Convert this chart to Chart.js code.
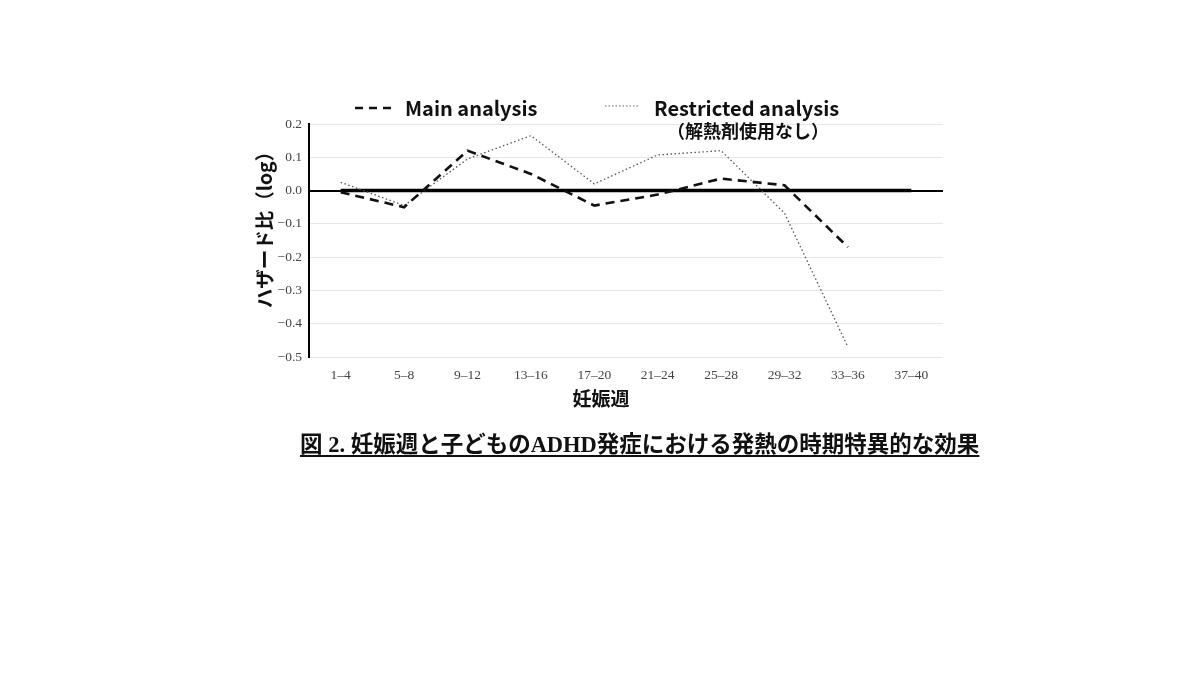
<!DOCTYPE html>
<html><head><meta charset="utf-8">
<script src="https://cdn.jsdelivr.net/npm/chart.js@4"></script>
<style>
html,body{margin:0;padding:0;background:#fff;}
#wrap{position:relative;width:1200px;height:675px;}
#caption{position:absolute;left:300px;top:426px;white-space:nowrap;font-family:"Liberation Serif","Noto Sans CJK JP",serif;font-weight:bold;font-size:22.5px;color:#111;}
#caption span{text-decoration:underline;text-underline-offset:3px;text-decoration-thickness:1.5px;}
</style></head>
<body><div id="wrap"><canvas id="c" width="1200" height="675"></canvas>
<div id="caption"><span>図 2. 妊娠週と子どものADHD発症における発熱の時期特異的な効果</span></div></div>
<script>
const categories = ["1–4","5–8","9–12","13–16","17–20","21–24","25–28","29–32","33–36","37–40"];
const mainAnalysis = [-0.005,-0.05,0.12,0.05,-0.045,-0.012,0.036,0.016,-0.17,null];
const restrictedAnalysis = [0.025,-0.045,0.095,0.165,0.02,0.107,0.12,-0.068,-0.47,null];
const referenceLine = [0,0,0,0,0,0,0,0,0,0];
const yTicks = [0.2,0.1,0.0,-0.1,-0.2,-0.3,-0.4,-0.5];
const xTitle = '妊娠週';
const yTitle = 'ハザード比（log）';

const legendPlugin = {
  id:'customLegend',
  afterDraw(chart){
    const ctx = chart.ctx;
    ctx.save();
    ctx.strokeStyle='#111'; ctx.lineWidth=2.5; ctx.setLineDash([8,6]);
    ctx.beginPath(); ctx.moveTo(355,108); ctx.lineTo(392,108); ctx.stroke();
    ctx.strokeStyle='#666'; ctx.lineWidth=1.2; ctx.setLineDash([1.5,2]);
    ctx.beginPath(); ctx.moveTo(605,106); ctx.lineTo(640,106); ctx.stroke();
    ctx.setLineDash([]);
    ctx.fillStyle='#111';
    ctx.font='bold 20px "Noto Sans CJK JP", "Noto Sans", sans-serif';
    ctx.textBaseline='middle'; ctx.textAlign='left';
    ctx.fillText('Main analysis',405,108);
    ctx.fillText('Restricted analysis',654,108);
    ctx.font='bold 18px "Noto Sans CJK JP", sans-serif';
    ctx.textAlign='center';
    ctx.fillText('（解熱剤使用なし）',748,131);
    // axis titles
    ctx.font='bold 19px "Noto Sans CJK JP", sans-serif';
    ctx.fillText(xTitle,601,399);
    ctx.translate(265,225);
    ctx.rotate(-Math.PI/2);
    ctx.font='bold 19.5px "Noto Sans CJK JP", sans-serif';
    ctx.fillText(yTitle,0,0);
    ctx.restore();
  }
};

new Chart(document.getElementById('c'),{
  type:'line',
  data:{labels:categories,datasets:[
    {label:'ref',data:referenceLine,borderColor:'#000',borderWidth:3.5,pointRadius:0,order:3},
    {label:'Main analysis',data:mainAnalysis,borderColor:'#111',borderWidth:2.6,borderDash:[9,6],pointRadius:0,tension:0,order:1},
    {label:'Restricted analysis（解熱剤使用なし）',data:restrictedAnalysis,borderColor:'#555',borderWidth:1.3,borderDash:[1.5,2.5],pointRadius:0,tension:0,order:2}
  ]},
  options:{
    responsive:false,animation:false,
    layout:{padding:{left:251,right:257,top:124,bottom:264}},
    plugins:{legend:{display:false},tooltip:{enabled:false}},
    scales:{
      x:{
        offset:true,
        grid:{display:false},
        border:{display:false},
        ticks:{color:'#444',font:{family:'"Liberation Serif", serif',size:13.5},padding:2,maxRotation:0},
        afterFit(s){s.height=54;s.paddingLeft=0;s.paddingRight=0;}
      },
      y:{
        min:-0.5,max:0.2,
        afterBuildTicks(s){s.ticks=yTicks.map(v=>({value:v}));},
        grid:{drawTicks:false,color:c=>Math.abs(c.tick.value)<1e-9?'#000':'#e6e6e6',lineWidth:c=>Math.abs(c.tick.value)<1e-9?2:1},
        border:{color:'#000',width:2},
        ticks:{color:'#444',padding:7,font:{family:'"Liberation Serif", serif',size:13.5},callback:v=>{const n=Number(v);return (n<0?'−':'')+Math.abs(n).toFixed(1);}},
        afterFit(s){s.width=58;s.paddingTop=0;s.paddingBottom=0;}
      }
    }
  },
  plugins:[legendPlugin]
});
</script></body></html>
